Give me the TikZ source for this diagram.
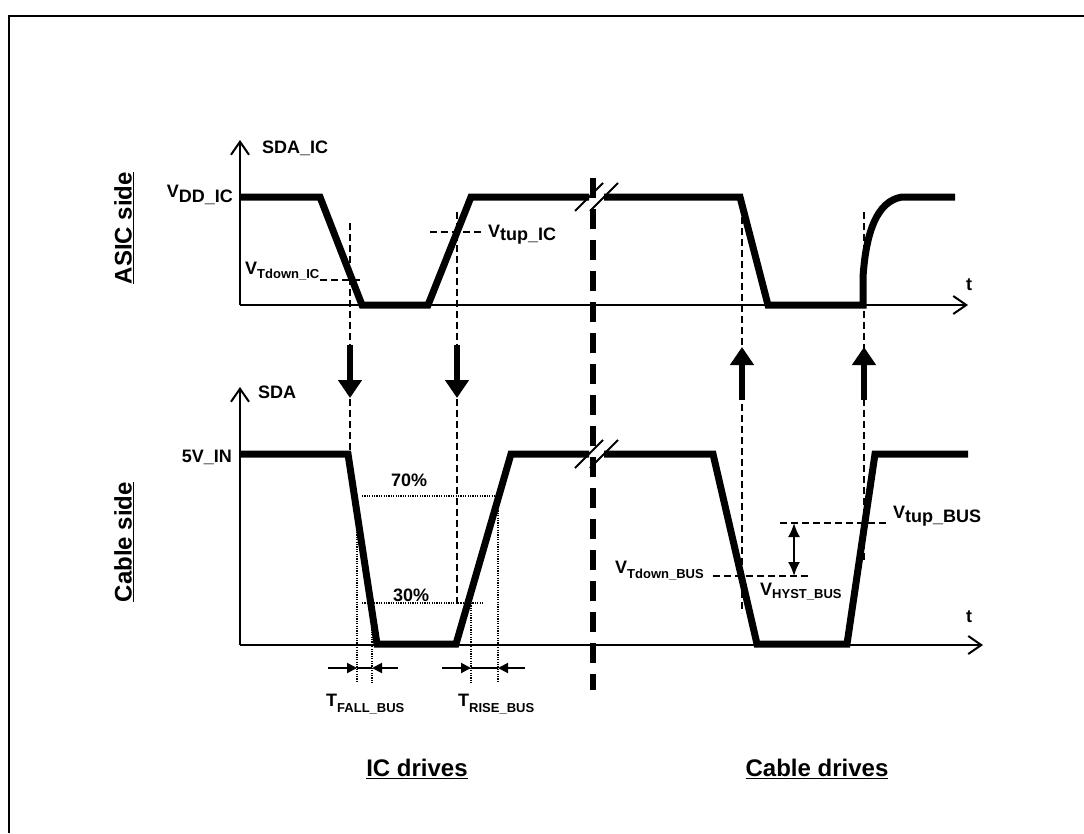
\documentclass[tikz,border=0pt]{standalone}
\usepackage{fontspec}
\setmainfont{Liberation Sans}
\usetikzlibrary{arrows.meta}
\newcommand\lowsub[3]{\raisebox{-#1}{\fontsize{#2}{#2}\selectfont #3}}
\begin{document}
\begin{tikzpicture}[x=1pt,y=-1pt,
  sig/.style={line width=7pt},
  axisline/.style={line width=2pt},
  dsh/.style={line width=1.8pt,dash pattern=on 7pt off 4pt},
  dotl/.style={line width=1.8pt,dash pattern=on 1.2pt off 1.2pt},
  lbl/.style={inner sep=0pt,font=\fontsize{18}{20}\selectfont\bfseries},
  big/.style={inner sep=0pt,font=\fontsize{24}{26}\selectfont\bfseries},
  bigarrow/.style={line width=6pt,-{Triangle[length=18pt,width=23pt]}},
  axarrow/.style={axisline,-{Straight Barb[length=13pt,width=18pt]}},
  tarrow/.style={line width=2pt,-{Triangle[length=10pt,width=10pt]}},
  brk/.style={line width=2pt},
  sepline/.style={line width=6pt,dash pattern=on 20pt off 11pt}
]
\useasboundingbox (0,0) rectangle (1084,833);
\fill[white] (0,0) rectangle (1084,833);
% frame
\draw[line width=2pt] (9,833) -- (9,16) -- (1084,16);

% ---------- coordinates ----------
\coordinate (o1) at (240,305);
\coordinate (y1) at (240,140);
\coordinate (x1) at (968,305);
\coordinate (o2) at (240,645);
\coordinate (y2) at (240,387);
\coordinate (x2) at (983,645);

% ---------- dashed guide lines ----------
\draw[dsh] (350,223) -- (350,453);
\draw[dsh] (457,212) -- (457,607);
\draw[dsh] (742,217) -- (742,613);
\draw[dsh] (864,212) -- (864,562);
\draw[dsh] (320,280) -- (363,280);
\draw[dsh] (430,232) -- (484,232);
\draw[dsh] (713,576) -- (808,576);
\draw[dsh] (780,523) -- (887,523);

% ---------- dotted measurement lines ----------
\draw[dotl] (362,496) -- (500,496);
\draw[dotl] (362,603) -- (483,603);
\draw[dotl] (357,496) -- (357,683);
\draw[dotl] (372,603) -- (372,683);
\draw[dotl] (471,603) -- (471,683);
\draw[dotl] (498,496) -- (498,683);

% ---------- axes ----------
\draw[axarrow] (o1) -- (y1);
\draw[axarrow] (o1) -- (x1);
\draw[axarrow] (o2) -- (y2);
\draw[axarrow] (o2) -- (x2);

% ---------- separator ----------
\draw[sepline] (593,178) -- (593,690);

% ---------- signals ----------
\draw[sig] (241,197) -- (320,197) -- (362,305) -- (428,305) -- (471,197) -- (589,197);
\draw[sig] (604,197) -- (740,197) -- (768,305) -- (863,305) -- (863,277)
  .. controls (866,232) and (877,201) .. (902,197) -- (955,197);
\draw[sig] (241,454) -- (348,454) -- (377,644) -- (456,644) -- (511,454) -- (589,454);
\draw[sig] (604,454) -- (713,454) -- (757,644) -- (847,644) -- (875,454) -- (968,454);

% break marks
\draw[brk] (575,211) -- (603,183);
\draw[brk] (590,211) -- (618,183);
\draw[brk] (575,468) -- (603,440);
\draw[brk] (590,468) -- (618,440);

% ---------- thick arrows ----------
\coordinate (da1) at (350,345); \coordinate (da1e) at (350,398);
\coordinate (da2) at (457,345); \coordinate (da2e) at (457,398);
\coordinate (ua1) at (742,400); \coordinate (ua1e) at (742,347);
\coordinate (ua2) at (864,400); \coordinate (ua2e) at (864,347);
\draw[bigarrow] (da1) -- (da1e);
\draw[bigarrow] (da2) -- (da2e);
\draw[bigarrow] (ua1) -- (ua1e);
\draw[bigarrow] (ua2) -- (ua2e);

% ---------- timing arrows ----------
\coordinate (f0) at (328,668); \coordinate (f1) at (357,668);
\coordinate (f2) at (372,668); \coordinate (f3) at (398,668);
\coordinate (r0) at (442,668); \coordinate (r1) at (471,668);
\coordinate (r2) at (498,668); \coordinate (r3) at (525,668);
\draw[tarrow] (f0) -- (f1);
\draw[line width=2pt] (f1) -- (f2);
\draw[tarrow] (f3) -- (f2);
\draw[tarrow] (r0) -- (r1);
\draw[line width=2pt] (r1) -- (r2);
\draw[tarrow] (r3) -- (r2);

% hysteresis arrow
\coordinate (h1) at (794,523); \coordinate (h2) at (794,576);
\draw[line width=2pt,{Latex[length=14pt,width=12pt]}-{Latex[length=14pt,width=12pt]}] (h1) -- (h2);

% ---------- labels ----------
\node[lbl,anchor=base west] (sdaic) at (262,153) {SDA\_IC};
\node[lbl,anchor=base east] (vddic) at (233,197) {V\lowsub{5pt}{18}{DD\_IC}};
\node[lbl,anchor=base west] (vtdic) at (245,274) {V\lowsub{4pt}{13}{Tdown\_IC}};
\node[lbl,anchor=base west] (vtupic) at (488,237) {V\lowsub{3pt}{18}{tup\_IC}};
\node[lbl,anchor=base west] (t1) at (966,290) {t};

\node[lbl,anchor=base west] (sda) at (258,398) {SDA};
\node[lbl,anchor=base east] (fivev) at (232,462) {5V\_IN};
\node[lbl,anchor=base west] (p70) at (391,486) {70\%};
\node[lbl,anchor=base west] (p30) at (393,601) {30\%};
\node[lbl,anchor=base west] (t2) at (966,622) {t};
\node[lbl,anchor=base west] (tfall) at (326,706) {T\lowsub{6pt}{13}{FALL\_BUS}};
\node[lbl,anchor=base west] (trise) at (458,706) {T\lowsub{6pt}{13}{RISE\_BUS}};
\node[lbl,anchor=base west] (vtdbus) at (615,573) {V\lowsub{5pt}{13}{Tdown\_BUS}};
\node[lbl,anchor=base west] (vtupbus) at (893,518) {V\lowsub{4pt}{18}{tup\_BUS}};
\node[lbl,anchor=base west] (vhyst) at (760,595) {V\lowsub{3pt}{13}{HYST\_BUS}};

\node[big,rotate=90] (asic) at (124,228) {\underline{ASIC side}};
\node[big,rotate=90] (cable) at (124,542) {\underline{Cable side}};
\node[big] (icdr) at (417,769) {\underline{IC drives}};
\node[big] (cbdr) at (817,769) {\underline{Cable drives}};
\end{tikzpicture}
\end{document}
